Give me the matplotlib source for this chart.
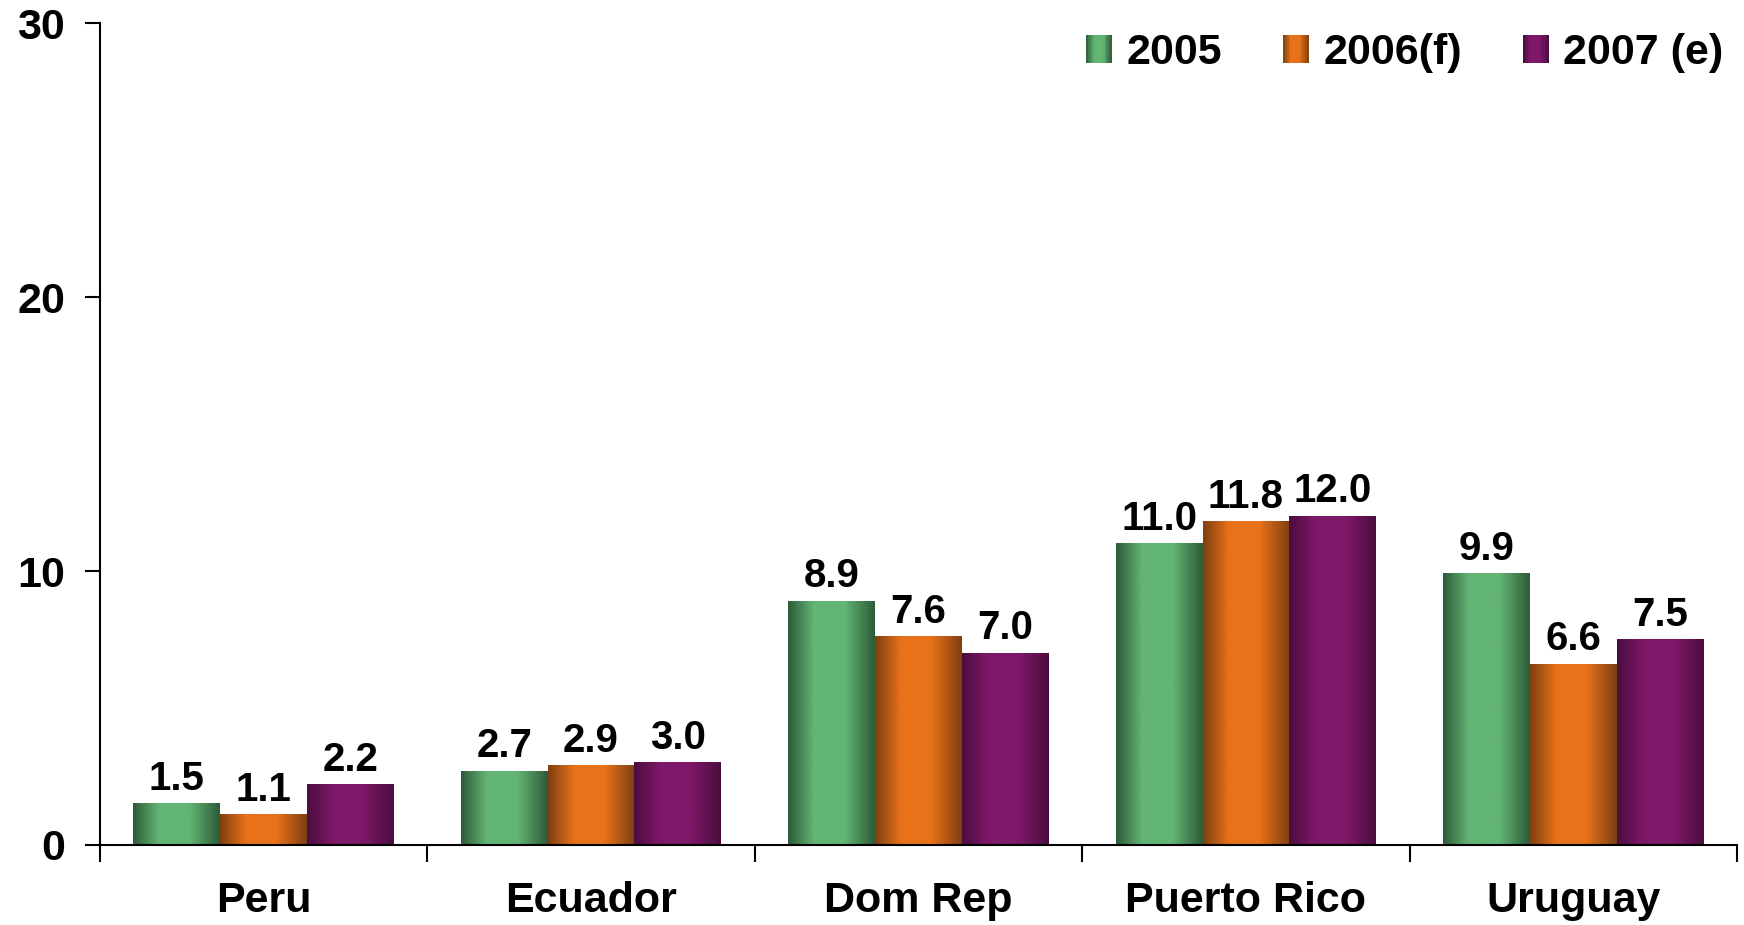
import numpy as np
import matplotlib.pyplot as plt
from matplotlib.colors import LinearSegmentedColormap
from matplotlib.patches import Rectangle
from matplotlib.legend_handler import HandlerBase

plt.rcParams["font.family"] = ["Liberation Sans", "DejaVu Sans"]
plt.rcParams["font.weight"] = "bold"

# ----- Data -----
countries = ["Peru", "Ecuador", "Dom Rep", "Puerto Rico", "Uruguay"]
series_names = ["2005", "2006(f)", "2007 (e)"]
vals_2005 = [1.5, 2.7, 8.9, 11.0, 9.9]
vals_2006 = [1.1, 2.9, 7.6, 11.8, 6.6]
vals_2007 = [2.2, 3.0, 7.0, 12.0, 7.5]
y_ticks = [0, 10, 20, 30]

# (edge colour, centre colour) for the bar gradients
SHADES = [("#2D5B38", "#63B574"),
          ("#7E3F10", "#E8721A"),
          ("#4A0D3E", "#7E1869")]


def make_cmap(dark, light):
    return LinearSegmentedColormap.from_list(
        "g", [(0, dark), (0.3, light), (0.65, light), (1, dark)])


class GradientHandler(HandlerBase):
    def __init__(self, dark, light):
        super().__init__()
        self.cmap = make_cmap(dark, light)

    def create_artists(self, legend, orig_handle, xdescent, ydescent,
                       width, height, fontsize, trans):
        n = 14
        arts = []
        for i in range(n):
            r = Rectangle((-xdescent + width * i / n, -ydescent), width / n * 1.05, height,
                          facecolor=self.cmap((i + 0.5) / n), edgecolor="none",
                          transform=trans)
            arts.append(r)
        return arts


fig = plt.figure(figsize=(17.44, 9.25), dpi=100)
ax = fig.add_axes([0.0573, 0.0865, 0.9387, 0.8885])

x = np.arange(len(countries))
width = 0.265
grad = np.linspace(0, 1, 256).reshape(1, -1)

handles = []
for k, (vals, (dark, light)) in enumerate(zip([vals_2005, vals_2006, vals_2007], SHADES)):
    offs = (k - 1) * width
    bars = ax.bar(x + offs, vals, width, color=light, linewidth=0, label=series_names[k])
    handles.append(bars)
    cmap = make_cmap(dark, light)
    for b, v in zip(bars, vals):
        x0 = b.get_x()
        ax.imshow(grad, extent=[x0, x0 + width, 0, v], aspect="auto", cmap=cmap,
                  interpolation="bilinear", zorder=2)
        ax.annotate(f"{v:.1f}", (x0 + width / 2, v), xytext=(0, 10),
                    textcoords="offset points", ha="center", va="baseline",
                    fontsize=29, fontweight="bold")

ax.set_xlim(-0.5, len(countries) - 0.5)
ax.set_ylim(0, 30)
ax.set_yticks(y_ticks)
ax.tick_params(axis="y", direction="out", length=11, width=1.5, pad=14, labelsize=31)

ax.set_xticks(np.arange(len(countries) + 1) - 0.5)
ax.set_xticklabels([])
ax.set_xticks(x, minor=True)
ax.set_xticklabels(countries, minor=True)
ax.tick_params(axis="x", which="major", direction="out", length=12, width=1.5)
ax.tick_params(axis="x", which="minor", length=0, pad=26, labelsize=31)

for s in ["top", "right"]:
    ax.spines[s].set_visible(False)
for s in ["left", "bottom"]:
    ax.spines[s].set_linewidth(1.5)

leg = ax.legend(handles=handles, labels=series_names, ncol=3, frameon=False,
                loc="upper right", bbox_to_anchor=(0.988, 0.964),
                bbox_transform=fig.transFigure, fontsize=31,
                borderpad=0, borderaxespad=0,
                handlelength=0.6, handleheight=0.6, handletextpad=0.33,
                columnspacing=1.42,
                handler_map={h: GradientHandler(d, l) for h, (d, l) in zip(handles, SHADES)})

fig.savefig("out.png", dpi=100)
